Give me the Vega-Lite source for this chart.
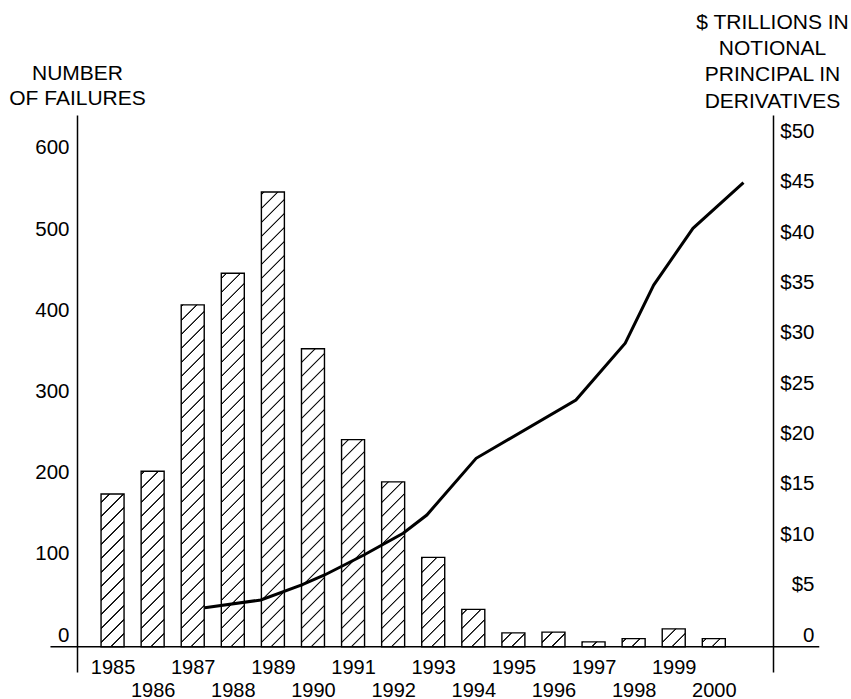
{
  "$schema": "https://vega.github.io/schema/vega-lite/v6.json",
  "width": 696,
  "height": 557,
  "autosize": {"type": "none"},
  "padding": {"left": 77, "top": 115, "right": 78, "bottom": 27},
  "background": "white",
  "config": {
    "view": {"stroke": null},
    "axis": {
      "grid": false, "ticks": false, "tickSize": 0,
      "labelFont": "Liberation Sans", "labelFontSize": 20.5, "labelColor": "#000",
      "titleFont": "Liberation Sans", "titleFontSize": 21, "titleFontWeight": "normal", "titleColor": "#000",
      "domainColor": "#000", "domainWidth": 1.5,
      "labelFlush": false, "labelOverlap": false
    }
  },
  "layer": [
    {
      "data": {"values": [
        {"year": 1985, "n": 188}, {"year": 1986, "n": 216}, {"year": 1987, "n": 421}, {"year": 1988, "n": 460},
        {"year": 1989, "n": 560}, {"year": 1990, "n": 367}, {"year": 1991, "n": 255}, {"year": 1992, "n": 203},
        {"year": 1993, "n": 110}, {"year": 1994, "n": 46}, {"year": 1995, "n": 17}, {"year": 1996, "n": 18},
        {"year": 1997, "n": 6}, {"year": 1998, "n": 10}, {"year": 1999, "n": 22}, {"year": 2000, "n": 10}
      ]},
      "layer": [
        {
          "mark": {"type": "bar", "width": 23, "stroke": null, "fill": {
            "gradient": "linear", "x1": 0, "y1": 0, "x2": 0.049327, "y2": 1.04488,
            "stops": [
              {"offset": 0, "color": "#fff"},
              {"offset": 0.01137, "color": "#fff"}, {"offset": 0.01274, "color": "#111"}, {"offset": 0.01470, "color": "#111"}, {"offset": 0.01607, "color": "#fff"},
              {"offset": 0.03881, "color": "#fff"}, {"offset": 0.04018, "color": "#111"}, {"offset": 0.04214, "color": "#111"}, {"offset": 0.04351, "color": "#fff"},
              {"offset": 0.06625, "color": "#fff"}, {"offset": 0.06762, "color": "#111"}, {"offset": 0.06958, "color": "#111"}, {"offset": 0.07095, "color": "#fff"},
              {"offset": 0.09369, "color": "#fff"}, {"offset": 0.09506, "color": "#111"}, {"offset": 0.09702, "color": "#111"}, {"offset": 0.09839, "color": "#fff"},
              {"offset": 0.12113, "color": "#fff"}, {"offset": 0.12250, "color": "#111"}, {"offset": 0.12446, "color": "#111"}, {"offset": 0.12583, "color": "#fff"},
              {"offset": 0.14857, "color": "#fff"}, {"offset": 0.14994, "color": "#111"}, {"offset": 0.15190, "color": "#111"}, {"offset": 0.15327, "color": "#fff"},
              {"offset": 0.17601, "color": "#fff"}, {"offset": 0.17738, "color": "#111"}, {"offset": 0.17934, "color": "#111"}, {"offset": 0.18071, "color": "#fff"},
              {"offset": 0.20345, "color": "#fff"}, {"offset": 0.20482, "color": "#111"}, {"offset": 0.20678, "color": "#111"}, {"offset": 0.20815, "color": "#fff"},
              {"offset": 0.23089, "color": "#fff"}, {"offset": 0.23226, "color": "#111"}, {"offset": 0.23422, "color": "#111"}, {"offset": 0.23559, "color": "#fff"},
              {"offset": 0.25833, "color": "#fff"}, {"offset": 0.25970, "color": "#111"}, {"offset": 0.26166, "color": "#111"}, {"offset": 0.26303, "color": "#fff"},
              {"offset": 0.28577, "color": "#fff"}, {"offset": 0.28714, "color": "#111"}, {"offset": 0.28910, "color": "#111"}, {"offset": 0.29047, "color": "#fff"},
              {"offset": 0.31321, "color": "#fff"}, {"offset": 0.31458, "color": "#111"}, {"offset": 0.31654, "color": "#111"}, {"offset": 0.31791, "color": "#fff"},
              {"offset": 0.34065, "color": "#fff"}, {"offset": 0.34202, "color": "#111"}, {"offset": 0.34398, "color": "#111"}, {"offset": 0.34535, "color": "#fff"},
              {"offset": 0.36809, "color": "#fff"}, {"offset": 0.36946, "color": "#111"}, {"offset": 0.37142, "color": "#111"}, {"offset": 0.37279, "color": "#fff"},
              {"offset": 0.39553, "color": "#fff"}, {"offset": 0.39690, "color": "#111"}, {"offset": 0.39886, "color": "#111"}, {"offset": 0.40023, "color": "#fff"},
              {"offset": 0.42297, "color": "#fff"}, {"offset": 0.42434, "color": "#111"}, {"offset": 0.42630, "color": "#111"}, {"offset": 0.42767, "color": "#fff"},
              {"offset": 0.45041, "color": "#fff"}, {"offset": 0.45178, "color": "#111"}, {"offset": 0.45374, "color": "#111"}, {"offset": 0.45511, "color": "#fff"},
              {"offset": 0.47785, "color": "#fff"}, {"offset": 0.47922, "color": "#111"}, {"offset": 0.48118, "color": "#111"}, {"offset": 0.48255, "color": "#fff"},
              {"offset": 0.50529, "color": "#fff"}, {"offset": 0.50666, "color": "#111"}, {"offset": 0.50862, "color": "#111"}, {"offset": 0.50999, "color": "#fff"},
              {"offset": 0.53273, "color": "#fff"}, {"offset": 0.53410, "color": "#111"}, {"offset": 0.53606, "color": "#111"}, {"offset": 0.53743, "color": "#fff"},
              {"offset": 0.56017, "color": "#fff"}, {"offset": 0.56154, "color": "#111"}, {"offset": 0.56350, "color": "#111"}, {"offset": 0.56487, "color": "#fff"},
              {"offset": 0.58761, "color": "#fff"}, {"offset": 0.58898, "color": "#111"}, {"offset": 0.59094, "color": "#111"}, {"offset": 0.59231, "color": "#fff"},
              {"offset": 0.61505, "color": "#fff"}, {"offset": 0.61642, "color": "#111"}, {"offset": 0.61838, "color": "#111"}, {"offset": 0.61975, "color": "#fff"},
              {"offset": 0.64249, "color": "#fff"}, {"offset": 0.64386, "color": "#111"}, {"offset": 0.64582, "color": "#111"}, {"offset": 0.64719, "color": "#fff"},
              {"offset": 0.66993, "color": "#fff"}, {"offset": 0.67130, "color": "#111"}, {"offset": 0.67326, "color": "#111"}, {"offset": 0.67463, "color": "#fff"},
              {"offset": 0.69737, "color": "#fff"}, {"offset": 0.69874, "color": "#111"}, {"offset": 0.70070, "color": "#111"}, {"offset": 0.70207, "color": "#fff"},
              {"offset": 0.72481, "color": "#fff"}, {"offset": 0.72618, "color": "#111"}, {"offset": 0.72814, "color": "#111"}, {"offset": 0.72951, "color": "#fff"},
              {"offset": 0.75225, "color": "#fff"}, {"offset": 0.75362, "color": "#111"}, {"offset": 0.75558, "color": "#111"}, {"offset": 0.75695, "color": "#fff"},
              {"offset": 0.77969, "color": "#fff"}, {"offset": 0.78106, "color": "#111"}, {"offset": 0.78302, "color": "#111"}, {"offset": 0.78439, "color": "#fff"},
              {"offset": 0.80713, "color": "#fff"}, {"offset": 0.80850, "color": "#111"}, {"offset": 0.81046, "color": "#111"}, {"offset": 0.81183, "color": "#fff"},
              {"offset": 0.83457, "color": "#fff"}, {"offset": 0.83594, "color": "#111"}, {"offset": 0.83790, "color": "#111"}, {"offset": 0.83927, "color": "#fff"},
              {"offset": 0.86201, "color": "#fff"}, {"offset": 0.86338, "color": "#111"}, {"offset": 0.86534, "color": "#111"}, {"offset": 0.86671, "color": "#fff"},
              {"offset": 0.88945, "color": "#fff"}, {"offset": 0.89082, "color": "#111"}, {"offset": 0.89278, "color": "#111"}, {"offset": 0.89415, "color": "#fff"},
              {"offset": 0.91689, "color": "#fff"}, {"offset": 0.91826, "color": "#111"}, {"offset": 0.92022, "color": "#111"}, {"offset": 0.92159, "color": "#fff"},
              {"offset": 0.94433, "color": "#fff"}, {"offset": 0.94570, "color": "#111"}, {"offset": 0.94766, "color": "#111"}, {"offset": 0.94903, "color": "#fff"},
              {"offset": 0.97177, "color": "#fff"}, {"offset": 0.97314, "color": "#111"}, {"offset": 0.97510, "color": "#111"}, {"offset": 0.97647, "color": "#fff"},
              {"offset": 1, "color": "#fff"}
            ]
          }},
          "encoding": {
            "x": {"field": "year", "type": "quantitative",
              "scale": {"domain": [1984.2377, 2001.352], "nice": false, "zero": false},
              "axis": {"orient": "bottom", "title": null, "domain": false,
                "values": [1985, 1986, 1987, 1988, 1989, 1990, 1991, 1992, 1993, 1994, 1995, 1996, 1997, 1998, 1999, 2000],
                "labelExpr": "datum.value % 2 == 1 ? '' + datum.value : ['', '' + datum.value]",
                "labelBaseline": "top", "labelPadding": -14.5, "labelLineHeight": 23, "labelAlign": "center", "labelFontSize": 20}},
            "y": {"datum": 600, "type": "quantitative",
              "scale": {"domain": [-31.16, 654.8], "nice": false, "zero": false},
              "axis": {"orient": "left", "title": ["NUMBER", "OF FAILURES"],
                "values": [0, 100, 200, 300, 400, 500, 600],
                "titleAngle": 0, "titleAlign": "center", "titleBaseline": "top",
                "titleX": 0, "titleY": -52.7, "titleLineHeight": 25.7,
                "labelAlign": "right", "labelBaseline": "alphabetic", "labelOffset": -5.5, "labelPadding": 8}},
            "y2": {"datum": 0}
          }
        },
        {
          "mark": {"type": "bar", "width": 26, "fill": "#fff", "stroke": null},
          "encoding": {
            "x": {"field": "year", "type": "quantitative"},
            "y": {"field": "n", "type": "quantitative"},
            "y2": {"datum": 610}
          }
        },
        {
          "mark": {"type": "bar", "width": 23, "fill": "transparent", "stroke": "#000", "strokeWidth": 1.4},
          "encoding": {
            "x": {"field": "year", "type": "quantitative"},
            "y": {"field": "n", "type": "quantitative"},
            "y2": {"datum": 0}
          }
        },
        {
          "data": {"values": [{}]},
          "mark": {"type": "rule", "color": "#000", "strokeWidth": 1.5},
          "encoding": {
            "x": {"datum": 1983.451, "type": "quantitative"},
            "x2": {"datum": 2002.631},
            "y": {"datum": 0, "type": "quantitative"}
          }
        }
      ]
    },
    {
      "data": {"values": [
        {"t": 1987.30, "v": 3.85}, {"t": 1988.70, "v": 4.62}, {"t": 1989.72, "v": 6.12}, {"t": 1990.29, "v": 7.10},
        {"t": 1991.27, "v": 9.08}, {"t": 1992.25, "v": 11.24}, {"t": 1992.84, "v": 13.05}, {"t": 1994.07, "v": 18.68},
        {"t": 1996.56, "v": 24.47}, {"t": 1997.79, "v": 30.10}, {"t": 1998.50, "v": 35.88}, {"t": 1999.48, "v": 41.51},
        {"t": 2000.74, "v": 46.04}
      ]},
      "mark": {"type": "line", "color": "#000", "strokeWidth": 3},
      "encoding": {
        "x": {"field": "t", "type": "quantitative"},
        "y": {"field": "v", "type": "quantitative",
          "scale": {"domain": [-2.531, 52.76], "nice": false, "zero": false},
          "axis": {"orient": "right", "title": ["$ TRILLIONS IN", "NOTIONAL", "PRINCIPAL IN", "DERIVATIVES"],
            "values": [0, 5, 10, 15, 20, 25, 30, 35, 40, 45, 50],
            "labelExpr": "datum.value == 0 ? '0' : '$' + datum.value",
            "titleAngle": 0, "titleAlign": "center", "titleBaseline": "top",
            "titleX": -1, "titleY": -103.7, "titleLineHeight": 26.3,
            "labelAlign": "right", "labelBaseline": "alphabetic", "labelOffset": -5.5, "labelPadding": 41}}
      }
    }
  ],
  "resolve": {"scale": {"y": "independent"}}
}
